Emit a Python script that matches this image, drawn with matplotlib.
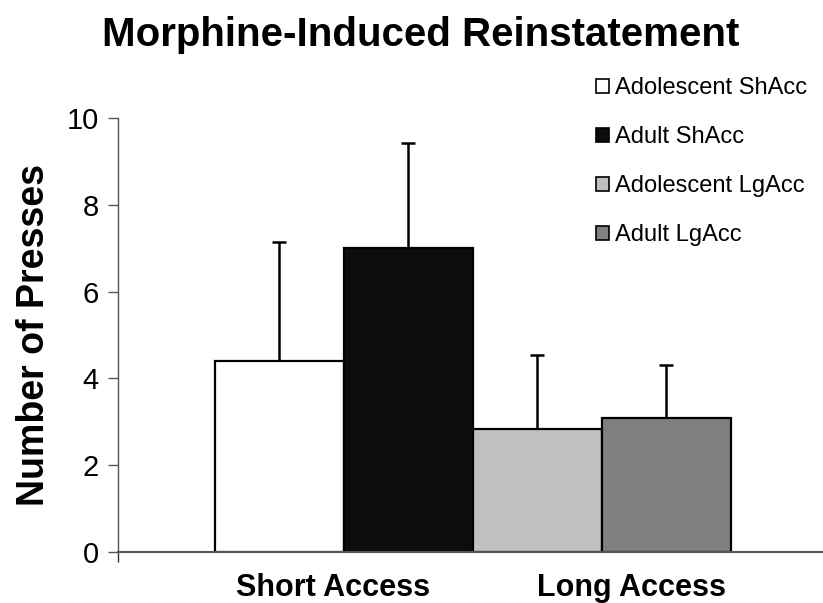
import matplotlib.pyplot as plt
from matplotlib.patches import Patch

plt.rcParams['font.family'] = ['Liberation Sans', 'DejaVu Sans']

groups = ['Short Access', 'Long Access']
series = ['Adolescent ShAcc', 'Adult ShAcc', 'Adolescent LgAcc', 'Adult LgAcc']
means = [4.40, 7.01, 2.83, 3.10]
sems = [2.73, 2.41, 1.70, 1.21]
colors = ['#ffffff', '#0d0d0d', '#c0c0c0', '#808080']

W, H = 823, 603
fig = plt.figure(figsize=(W / 100, H / 100), dpi=100)
# axes box in pixel terms: left spine at x=118, y=0 at 552, y=10 at 118
ax = fig.add_axes([118 / W, (H - 552.3) / H, (W - 118) / W, (552.3 - 117.7) / H])

# bar centres measured in bar widths from the left spine
xs = [1.25 + i for i in range(len(series))]
for x, m, e, c, lab in zip(xs, means, sems, colors, series):
    ax.bar(x, m, width=1.0, color=c, edgecolor='black', linewidth=1.6, label=lab, zorder=2)
    ax.errorbar(x, m, yerr=[[0], [e]], fmt='none', ecolor='black',
                elinewidth=1.8, capsize=5, capthick=1.8, zorder=1)

ax.set_xlim(0, (W - 118) / 129)
ax.set_ylim(0, 10)
ax.set_yticks([0, 2, 4, 6, 8, 10])
ax.tick_params(axis='y', direction='out', length=7, width=1, color='#555555',
               labelsize=21, pad=7)

ax.set_xticks([1.667, 3.984])
ax.set_xticklabels(groups, fontsize=22, fontweight='bold')
ax.tick_params(axis='x', length=0, pad=15)
ax.set_xticks([0], minor=True)
ax.tick_params(axis='x', which='minor', direction='out', length=7, width=1, color='#333333')

for side in ['top', 'right']:
    ax.spines[side].set_visible(False)
ax.spines['left'].set_color('#555555')
ax.spines['left'].set_linewidth(1)
ax.spines['bottom'].set_color('#555555')
ax.spines['bottom'].set_linewidth(1.5)

ax.set_ylabel('Number of Presses', fontsize=27, fontweight='bold', labelpad=10)

fig.text(421 / W, 1 - 46 / H, 'Morphine-Induced Reinstatement', fontsize=29,
         fontweight='bold', ha='center', va='baseline')

handles = [Patch(facecolor=c, edgecolor='black', linewidth=1.2) for c in colors]
ax.legend(handles, series, loc='upper left', bbox_to_anchor=(596 / W, 1 - 77 / H),
          bbox_transform=fig.transFigure, frameon=False, fontsize=17,
          handlelength=0.55, handleheight=0.55, handletextpad=0.25, labelspacing=1.15,
          borderaxespad=0, borderpad=0)

fig.savefig('out.png', dpi=100)
